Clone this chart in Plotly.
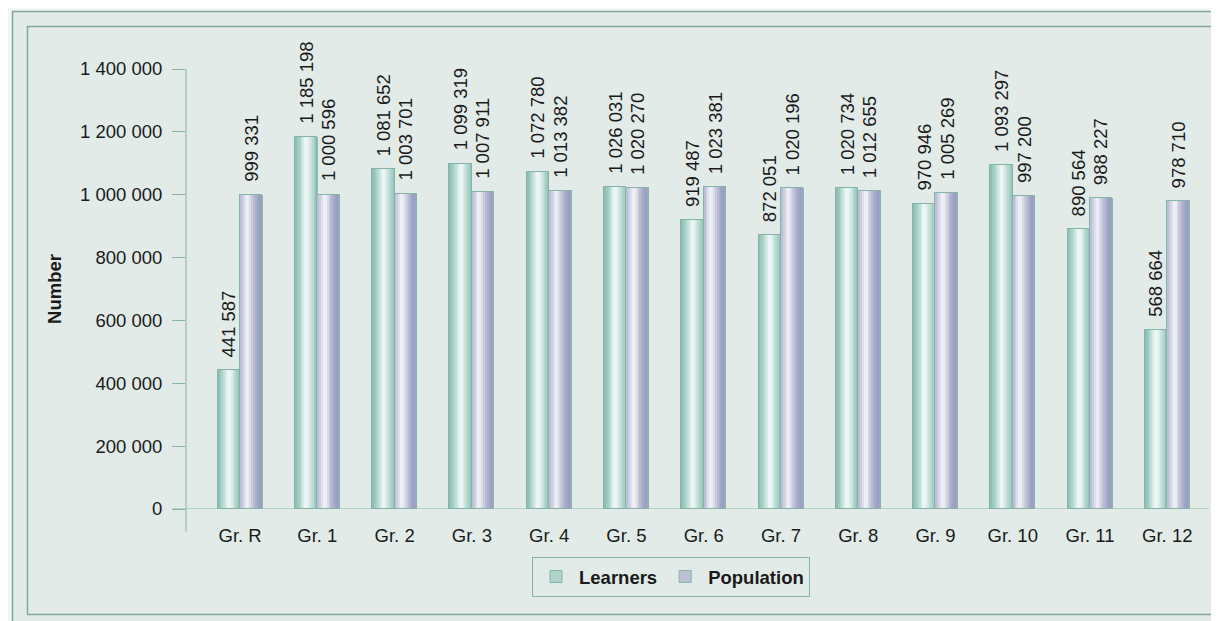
import plotly.graph_objects as go

categories = ["Gr. R", "Gr. 1", "Gr. 2", "Gr. 3", "Gr. 4", "Gr. 5", "Gr. 6",
              "Gr. 7", "Gr. 8", "Gr. 9", "Gr. 10", "Gr. 11", "Gr. 12"]
learners = [441587, 1185198, 1081652, 1099319, 1072780, 1026031, 919487,
            872051, 1020734, 970946, 1093297, 890564, 568664]
population = [999331, 1000596, 1003701, 1007911, 1013382, 1020270, 1023381,
              1020196, 1012655, 1005269, 997200, 988227, 978710]
y_ticks = [0, 200000, 400000, 600000, 800000, 1000000, 1200000, 1400000]

FONT = "Liberation Sans, Arial, sans-serif"
TEAL = "#85b3a6"
TXT = "#1a1a1a"
FS = 18.5

W = 0.29
NSTRIP = 12

def lerp(c1, c2, t):
    return tuple(round(a + (b - a) * t) for a, b in zip(c1, c2))

def grad(stops, t):
    for (p0, c0), (p1, c1) in zip(stops, stops[1:]):
        if p0 <= t <= p1:
            return "rgb(%d,%d,%d)" % lerp(c0, c1, (t - p0) / (p1 - p0))
    return "rgb(%d,%d,%d)" % stops[-1][1]

learn_stops = [(0.0, (136, 186, 176)), (0.2, (170, 210, 202)), (0.5, (246, 251, 250)),
               (0.72, (198, 226, 220)), (1.0, (142, 190, 180))]
pop_stops = [(0.0, (180, 184, 210)), (0.33, (246, 246, 250)), (0.6, (188, 190, 214)),
             (0.85, (152, 156, 192)), (1.0, (164, 168, 202))]

series = [("Learners", learners, -W, learn_stops, "rgb(176,212,204)"),
          ("Population", population, 0.0, pop_stops, "rgb(190,192,214)")]

fig = go.Figure()

for name, vals, off, stops, mid in series:
    fig.add_trace(go.Bar(x=categories, y=vals, name=name, width=W, offset=off,
                         marker=dict(color=mid, line=dict(color=TEAL, width=1)),
                         hoverinfo="skip", showlegend=True))
    sw = W / NSTRIP
    for k in range(NSTRIP):
        t = (k + 0.5) / NSTRIP
        fig.add_trace(go.Bar(x=categories, y=vals, width=sw * 1.08, offset=off + k * sw,
                             marker=dict(color=grad(stops, t), line=dict(width=0)),
                             hoverinfo="skip", showlegend=False))
    fig.add_trace(go.Bar(x=categories, y=vals, width=W, offset=off,
                         marker=dict(color="rgba(0,0,0,0)", line=dict(color=TEAL, width=1)),
                         hoverinfo="skip", showlegend=False))

annotations = []
for name, vals, off, stops, mid in series:
    for c, v in zip(categories, vals):
        annotations.append(dict(
            x=c, y=v, xref="x", yref="y", text=f"{v:,}".replace(",", " "),
            textangle=-90, showarrow=False, yanchor="bottom", xanchor="center",
            xshift=(off + W / 2) * 77.3, yshift=11,
            font=dict(family=FONT, size=FS, color=TXT)))

# reference-pixel coordinates; plot area in reference: x 186..1209, y 69..509
def px(xp):
    return (xp - 186) / 1023.0

def py(yp):
    return (509 - yp) / 440.0

shapes = [
    dict(type="rect", xref="paper", yref="paper", x0=px(12.5), x1=px(1240), y0=py(650), y1=py(11.5),
         fillcolor="#e2ebe8", line=dict(color="#7fa898", width=1.5), layer="below"),
    dict(type="rect", xref="paper", yref="paper", x0=px(27.5), x1=px(1240), y0=py(614.5), y1=py(26.5),
         fillcolor="rgba(0,0,0,0)", line=dict(color="#7fa898", width=1.5), layer="below"),
    dict(type="line", xref="paper", yref="paper", x0=0, x1=0, y0=py(531.5), y1=1,
         line=dict(color=TEAL, width=1), layer="below"),
    dict(type="line", xref="paper", yref="y", x0=px(173), x1=1, y0=0, y1=0,
         line=dict(color=TEAL, width=1), layer="below"),
]

# the page body adds an 8px offset, so margins are shifted to compensate
OFF = 8
fig.update_layout(
    width=1219, height=621,
    margin=dict(l=186 - OFF, r=1219 - (1209 - OFF), t=69 - OFF, b=621 - (509 - OFF)),
    paper_bgcolor="#f1f5f4", plot_bgcolor="rgba(0,0,0,0)",
    barmode="overlay", bargap=0,
    separators=". ",
    font=dict(family=FONT, size=FS, color=TXT),
    shapes=shapes, annotations=annotations,
    showlegend=True,
    legend=dict(orientation="h", x=px(532), xanchor="left", y=py(557), yanchor="top",
                bgcolor="rgba(0,0,0,0)", bordercolor=TEAL, borderwidth=1,
                font=dict(family=FONT, size=FS, color=TXT, weight="bold"),
                itemwidth=36, traceorder="normal"),
    xaxis=dict(type="category", range=[-0.7, 12.54], showgrid=False, zeroline=False,
               showline=False, ticks="", tickfont=dict(size=FS), ticklabelstandoff=13,
               fixedrange=True),
    yaxis=dict(range=[0, 1400000], tickvals=y_ticks, tickformat=",d", showgrid=False,
               zeroline=False, showline=False, ticks="outside", ticklen=13, tickcolor=TEAL,
               tickwidth=1, ticklabelstandoff=6, tickfont=dict(size=FS),
               title=dict(text="<b>Number</b>", standoff=13, font=dict(size=FS)),
               fixedrange=True),
)

fig.write_html("out.html")
